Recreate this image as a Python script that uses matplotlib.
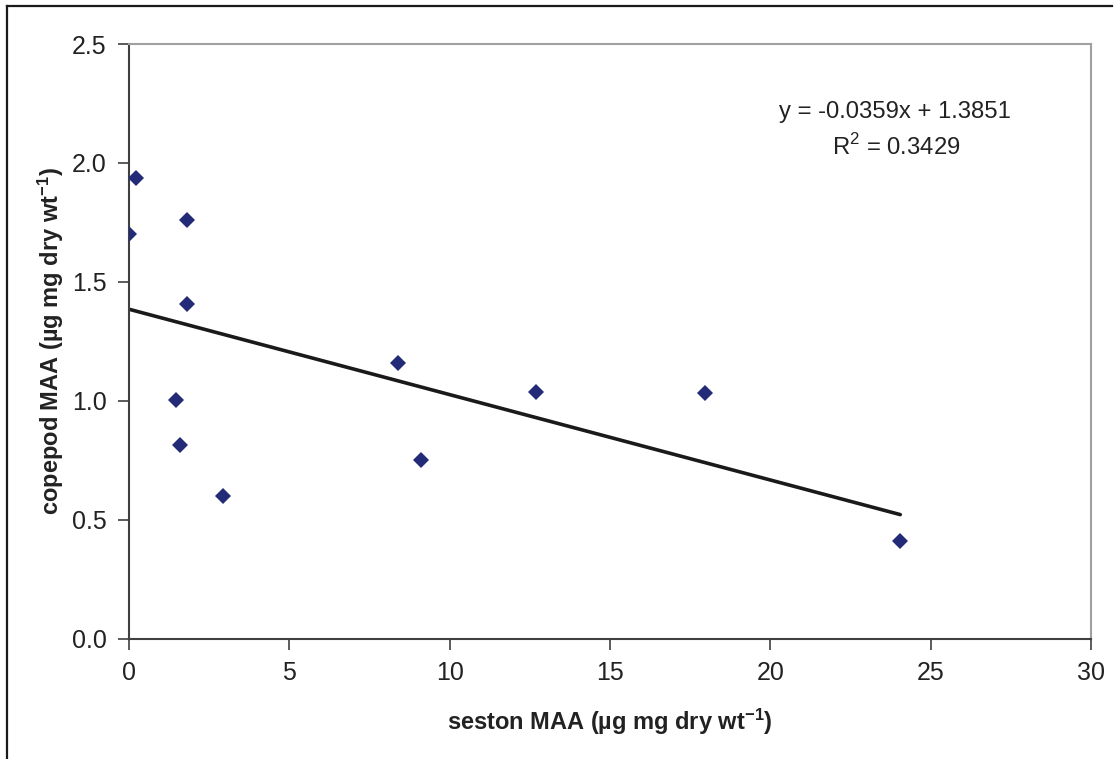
"""
Copepod MAA against seston MAA, with the linear trend line.
"""

import matplotlib

matplotlib.use("Agg")
import matplotlib.pyplot as plt
from matplotlib.lines import Line2D

# values
seston_maa = [0.0, 0.21, 1.81, 1.81, 1.47, 1.59, 2.92, 8.40, 9.09, 12.70, 17.97, 24.05]
copepod_maa = [1.70, 1.935, 1.76, 1.405, 1.005, 0.814, 0.599, 1.160, 0.753, 1.038, 1.035, 0.412]

# trend line as reported on the chart
slope = -0.0359
intercept = 1.3851
r_squared = 0.3429

x_ticks = [0, 5, 10, 15, 20, 25, 30]
y_ticks = [0.0, 0.5, 1.0, 1.5, 2.0, 2.5]

plt.rcParams["font.family"] = ["Liberation Sans", "DejaVu Sans"]
plt.rcParams["mathtext.fontset"] = "custom"
plt.rcParams["mathtext.rm"] = "Liberation Sans"
plt.rcParams["mathtext.bf"] = "Liberation Sans:bold"


if __name__ == "__main__":
    fig = plt.figure(figsize=(11.14, 7.59), dpi=100)
    ax = fig.add_axes([0.1158, 0.1585, 0.8636, 0.7835])

    ax.plot(seston_maa, copepod_maa, linestyle="none", marker="D",
            markersize=8.5, markeredgewidth=0, color="#232a77", zorder=3)

    x_end = max(seston_maa)
    ax.plot([0, x_end], [intercept, intercept + slope * x_end],
            color="#1a1a1a", linewidth=2.6, solid_capstyle="round", zorder=2)

    ax.text(0.796, 0.886, f"y = {slope:.4f}x + {intercept:.4f}",
            transform=ax.transAxes, ha="center", va="center", fontsize=17.2,
            color="#222222")
    ax.text(0.798, 0.827, f"R$^2$ = {r_squared:.4f}",
            transform=ax.transAxes, ha="center", va="center", fontsize=17.2,
            color="#222222")

    ax.set_xlim(0, 30)
    ax.set_ylim(0, 2.5)
    ax.set_xticks(x_ticks)
    ax.set_yticks(y_ticks)
    ax.set_xticklabels([str(t) for t in x_ticks])
    ax.set_yticklabels([f"{t:.1f}" for t in y_ticks])
    ax.tick_params(direction="out", length=8, width=1.2, colors="#404040",
                   labelcolor="#222222", labelsize=18, pad=8)

    for side in ["left", "bottom"]:
        ax.spines[side].set_color("#404040")
        ax.spines[side].set_linewidth(1.5)
    for side in ["top", "right"]:
        ax.spines[side].set_color("#a0a0a0")
        ax.spines[side].set_linewidth(1.5)

    ax.set_xlabel(r"seston MAA (µg mg dry $\mathbf{wt^{-1}}$)",
                  fontsize=17, fontweight="bold", color="#222222")
    ax.set_ylabel(r"copepod MAA (µg mg dry $\mathbf{wt^{-1}}$)",
                  fontsize=17, fontweight="bold", color="#222222")
    ax.xaxis.set_label_coords(0.5, -0.115)
    ax.yaxis.set_label_coords(-0.066, 0.5)

    # outer chart frame (only top and left edges are visible)
    fig.add_artist(Line2D([7 / 1114, 1112 / 1114], [1 - 5.5 / 759, 1 - 5.5 / 759],
                          transform=fig.transFigure, color="#1a1a1a", linewidth=1.6))
    fig.add_artist(Line2D([7.3 / 1114, 7.3 / 1114], [0, 1 - 5.5 / 759],
                          transform=fig.transFigure, color="#1a1a1a", linewidth=1.6))

    fig.savefig("out.png", dpi=100)
